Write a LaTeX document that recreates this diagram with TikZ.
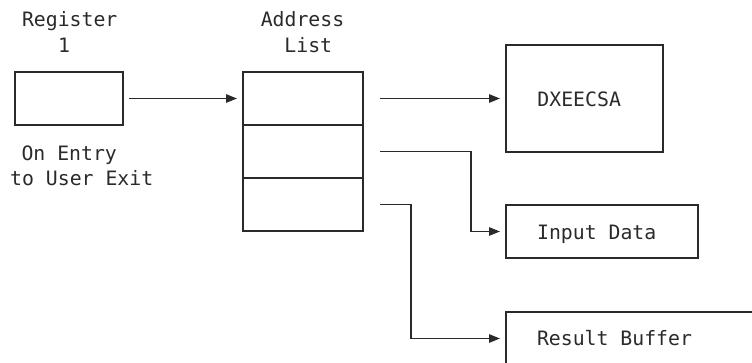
\documentclass[tikz,border=0pt]{standalone}
\usepackage{fontspec}
\newfontfamily\monofnt{DejaVu Sans Mono}
\usetikzlibrary{arrows.meta}
\definecolor{ink}{HTML}{2A2A2A}
\tikzset{
  box/.style={draw=ink, line width=1.2pt, inner sep=0pt, outer sep=0pt},
  lbl/.style={text=ink, font=\monofnt\fontsize{19.8}{25}\selectfont, inner sep=0pt, anchor=base},
  arr/.style={draw=ink, line width=1.2pt, -{Triangle[length=11pt,width=8.5pt]}},
}
\begin{document}
\begin{tikzpicture}[x=1pt,y=-1pt]
\clip (0,0) rectangle (752,362);
\useasboundingbox (0,0) rectangle (752,362);
% boxes
\node[box, minimum width=108pt, minimum height=53pt] (reg) at (69,98.5) {};
\node[box, minimum width=120pt, minimum height=53pt] (a1) at (303,98.5) {};
\node[box, minimum width=120pt, minimum height=53pt] (a2) at (303,151.5) {};
\node[box, minimum width=120pt, minimum height=53pt] (a3) at (303,204.5) {};
\node[box, minimum width=157pt, minimum height=107pt] (dx) at (584.5,98.5) {};
\node[box, minimum width=192pt, minimum height=53pt] (inp) at (602,231.5) {};
\node[box, minimum width=260pt, minimum height=53pt] (res) at (636,338.5) {};
% labels
\node[lbl] (t1) at (69.7,26.7) {Register};
\node[lbl] (t2) at (64,52.7) {1};
\node[lbl] (t3) at (302.5,26.7) {Address};
\node[lbl] (t4) at (308.3,52.7) {List};
\node[lbl] (t5) at (69.2,160) {On Entry};
\node[lbl] (t6) at (81.7,185) {to User Exit};
\node[lbl] (t7) at (579.2,106.5) {DXEECSA};
\node[lbl] (t8) at (596.7,239.5) {Input Data};
\node[lbl] (t9) at (614.5,345.5) {Result Buffer};
% connectors
\draw[arr] ([xshift=6pt]reg.east) -- ([xshift=-6pt]a1.west);
\draw[arr] ([xshift=17pt]a1.east) -- ([xshift=-6pt]dx.west);
\draw[arr] ([xshift=17pt]a2.east) -| ([xshift=-35pt]inp.west) -- ([xshift=-6pt]inp.west);
\draw[arr] ([xshift=17pt]a3.east) -| ([xshift=-95pt]res.west) -- ([xshift=-6pt]res.west);
\end{tikzpicture}
\end{document}
